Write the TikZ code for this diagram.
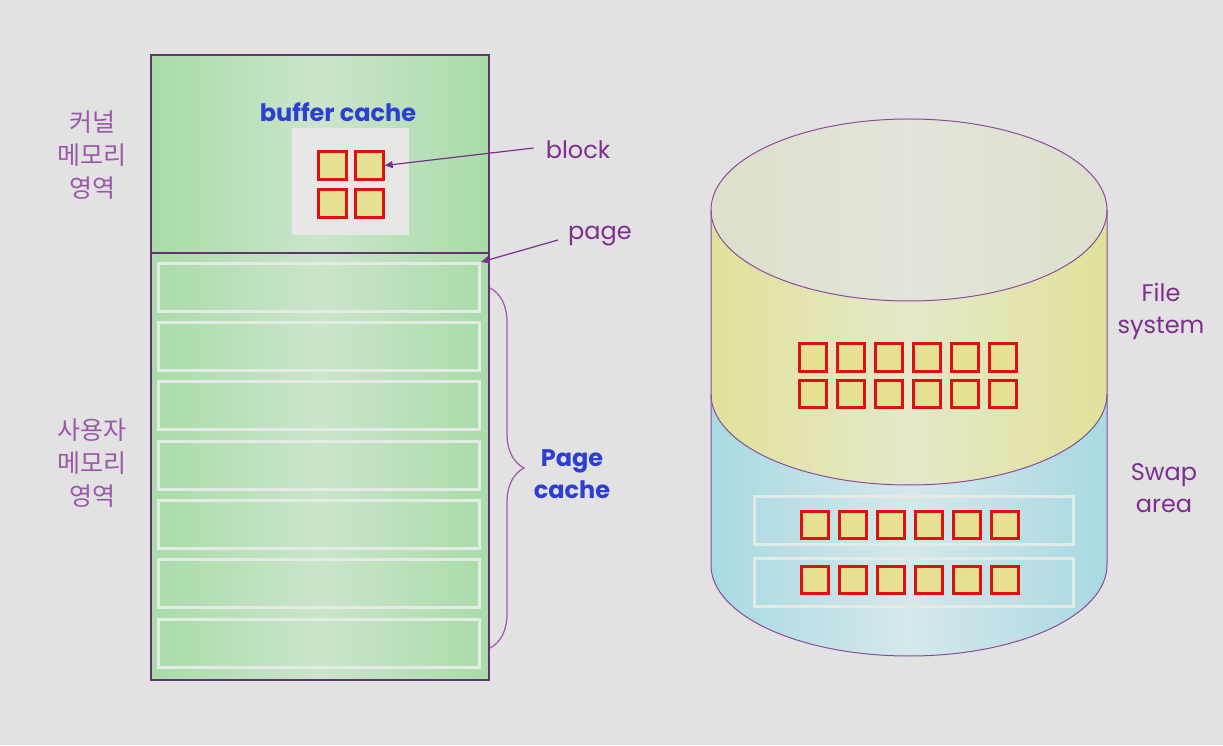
\documentclass[tikz,border=0pt]{standalone}
\usepackage{fontspec}
\setmainfont{Poppins}
\newfontfamily\kr{Noto Sans CJK KR}
\usetikzlibrary{arrows.meta,decorations.pathreplacing}
\definecolor{bg}{HTML}{E2E2E2}
\definecolor{bufbg}{HTML}{E7E7E5}
\definecolor{gEdge}{HTML}{A8DCA8}
\definecolor{gMid}{HTML}{CBE5CB}
\definecolor{yEdge}{HTML}{E0E29A}
\definecolor{yMid}{HTML}{E6E7C9}
\definecolor{tEdge}{HTML}{DDE0CC}
\definecolor{tMid}{HTML}{E3E4DA}
\definecolor{bEdge}{HTML}{A8D9E2}
\definecolor{bMid}{HTML}{D6E8EA}
\definecolor{sqred}{HTML}{E01010}
\definecolor{sqfill}{HTML}{E6E192}
\definecolor{purp}{HTML}{7E2E8E}
\definecolor{lpurp}{HTML}{9A58A8}
\definecolor{outl}{HTML}{8A4C9C}
\definecolor{blu}{HTML}{2C3ED4}
\definecolor{stripline}{HTML}{E6EAE6}
\begin{document}
\begin{tikzpicture}[x=1pt,y=1pt,
  sq/.style={draw=sqred, fill=sqfill, line width=2.8pt, minimum size=27.5pt, inner sep=0pt},
  strip/.style={draw=stripline, line width=3pt, minimum width=321pt, minimum height=48pt, inner sep=0pt},
  swapstrip/.style={draw=stripline, line width=3pt, minimum width=319pt, minimum height=48pt, inner sep=0pt},
  memsec/.style={draw=outl!70!black, line width=1.2pt, left color=gEdge, right color=gEdge, middle color=gMid, inner sep=0pt, minimum width=338pt},
  lab/.style={text=purp, font=\fontsize{24}{32}\selectfont, align=center, inner sep=0pt},
  krlab/.style={text=lpurp, font=\kr\fontsize{25}{33}\selectfont, align=center, inner sep=0pt},
  bluelab/.style={text=blu, font=\bfseries\fontsize{24}{32}\selectfont, align=center, inner sep=0pt},
  arr/.style={draw=purp, line width=1.2pt, -{Triangle[length=8pt,width=7pt]}},
  cylline/.style={draw=outl, line width=1pt}]
\fill[bg] (0,0) rectangle (1223,745);
\useasboundingbox (0,0) rectangle (1223,745);

% ---- memory ----
\node[memsec, minimum height=198pt] (kern) at (320,591) {};
\node[memsec, minimum height=427pt] (user) at (320,278.5) {};
\node[fill=bufbg, minimum width=117pt, minimum height=107pt, inner sep=0pt] (bufbox) at (350.5,563.5) {};
\node[sq] (b11) at (332.5,579.5) {};
\node[sq] (b12) at (369.5,579.5) {};
\node[sq] (b21) at (332.5,541.5) {};
\node[sq] (b22) at (369.5,541.5) {};
\node[bluelab] (buf) at (338,633) {buffer cache};

\foreach \i/\y in {1/457.5,2/398.2,3/339,4/279.7,5/220.5,6/161.2,7/102}
  \node[strip] (s\i) at (319,\y) {};

\node[krlab] (klab) at (92,590) {커널\\메모리\\영역};
\node[krlab] (ulab) at (92,282) {사용자\\메모리\\영역};

\node[lab] (blk) at (578,595) {block};
\node[lab] (pg) at (600,509) {page};
\draw[arr] ([xshift=-12pt,yshift=2pt]blk.west) -- (b12.east);
\draw[arr] ([xshift=-10pt,yshift=-4pt]pg.west) -- (s1.north east);

\coordinate (brt) at (490,457);
\coordinate (brb) at (490,97);
\draw[draw=lpurp, line width=1.2pt, decorate, decoration={brace, amplitude=34pt}] (brt) -- (brb);
\node[bluelab] (pc) at (572,271) {Page\\cache};

% ---- disk ----
\shade[left color=bEdge, right color=bEdge, middle color=bMid]
  (711,351) -- (711,180) arc[start angle=180, end angle=360, x radius=198, y radius=91]
  -- (1107,351) arc[start angle=0, end angle=-180, x radius=198, y radius=91] -- cycle;
\shade[left color=yEdge, right color=yEdge, middle color=yMid]
  (711,535) -- (711,351) arc[start angle=180, end angle=360, x radius=198, y radius=91]
  -- (1107,535) arc[start angle=0, end angle=-180, x radius=198, y radius=91] -- cycle;
\shade[left color=tEdge, right color=tEdge, middle color=tMid] (909,535) ellipse[x radius=198, y radius=91];
\draw[cylline] (909,535) ellipse[x radius=198, y radius=91];
\draw[cylline] (711,535) -- (711,180) arc[start angle=180, end angle=360, x radius=198, y radius=91] -- (1107,535);
\draw[cylline] (711,351) arc[start angle=180, end angle=360, x radius=198, y radius=91];

\foreach \r/\y in {1/387.5,2/351}
  \foreach \c in {0,...,5}
    \node[sq] (f\r\c) at (813+38*\c,\y) {};

\node[swapstrip] (w1) at (914,224.5) {};
\node[swapstrip] (w2) at (914,163) {};
\foreach \r/\y in {1/220,2/165}
  \foreach \c in {0,...,5}
    \node[sq] (w\r\c) at (815+38*\c,\y) {};

\node[lab] (fs) at (1161,434) {File\\system};
\node[lab] (sw) at (1164,257) {Swap\\area};
\end{tikzpicture}
\end{document}
